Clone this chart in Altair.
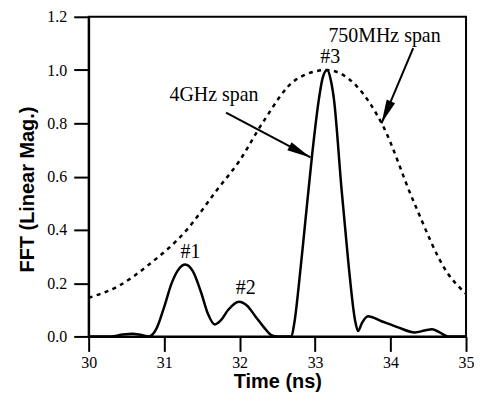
import altair as alt
import pandas as pd

# 4GHz span (solid) trace
solid_t = [30.0, 30.3, 30.45, 30.58, 30.7, 30.8, 30.9, 31.0, 31.1, 31.2, 31.28, 31.38,
           31.49, 31.58, 31.67, 31.75, 31.85, 31.99, 32.1, 32.21, 32.32, 32.42, 32.5,
           32.68, 32.73, 32.78, 32.87, 32.96, 33.05, 33.1, 33.16, 33.21, 33.25, 33.35,
           33.44, 33.53, 33.57, 33.62, 33.7, 33.88, 34.1, 34.32, 34.45, 34.55, 34.65,
           34.76, 35.0]
solid_v = [0.0, 0.0, 0.007, 0.01, 0.005, 0.0, 0.03, 0.11, 0.2, 0.255, 0.27, 0.245,
           0.165, 0.085, 0.045, 0.06, 0.1, 0.13, 0.115, 0.075, 0.035, 0.005, 0.0,
           0.0, 0.06, 0.18, 0.43, 0.68, 0.89, 0.97, 1.0, 0.96, 0.89, 0.555,
           0.28, 0.06, 0.02, 0.05, 0.076, 0.057, 0.034, 0.015, 0.022, 0.027, 0.015,
           0.0, 0.0]

# 750MHz span (dotted) trace
dot_t = [30.0, 30.4, 30.8, 31.3, 31.7, 32.0, 32.3, 32.75, 33.15, 33.55, 33.9, 34.3, 34.75, 35.0]
dot_v = [0.145, 0.19, 0.27, 0.40, 0.55, 0.66, 0.80, 0.965, 1.0, 0.94, 0.79, 0.51, 0.24, 0.16]

# text annotations (data coordinates)
label_text = ["#1", "#2", "#3", "4GHz span", "750MHz span"]
label_x = [31.35, 32.08, 33.2, 31.66, 33.92]
label_y = [0.318, 0.183, 1.05, 0.905, 1.127]

# arrows: start and tip (data coordinates), heading angle in degrees
arrow_x = [31.82, 34.30]
arrow_y = [0.840, 1.082]
arrow_x2 = [32.94, 33.88]
arrow_y2 = [0.672, 0.80]
arrow_angle = [117.9, 203.1]

SERIF = "Liberation Serif, Times New Roman, Times, serif"

xs = alt.Scale(domain=[30, 35], nice=False, zero=False)
ys = alt.Scale(domain=[0, 1.2], nice=False)

solid_df = pd.DataFrame({"t": solid_t, "v": solid_v})
dot_df = pd.DataFrame({"t": dot_t, "v": dot_v})
lab_df = pd.DataFrame({"x": label_x, "y": label_y, "txt": label_text})
arr_df = pd.DataFrame({"x": arrow_x, "y": arrow_y, "x2": arrow_x2, "y2": arrow_y2,
                       "ang": arrow_angle})

x_axis = alt.Axis(values=[30, 31, 32, 33, 34, 35], format="d", title="Time (ns)",
                  labelPadding=3, titlePadding=1)
y_axis = alt.Axis(values=[0, 0.2, 0.4, 0.6, 0.8, 1.0, 1.2], format=".1f",
                  title="FFT (Linear Mag.)", labelPadding=7, titlePadding=9, titleY=173)

dotted = alt.Chart(dot_df).mark_line(color="black", strokeWidth=2.5, strokeDash=[4, 4.5],
                                     interpolate="monotone").encode(
    x=alt.X("t:Q", scale=xs, axis=x_axis),
    y=alt.Y("v:Q", scale=ys, axis=y_axis),
)

solid = alt.Chart(solid_df).mark_line(color="black", strokeWidth=2.5,
                                      interpolate="monotone").encode(
    x=alt.X("t:Q", scale=xs),
    y=alt.Y("v:Q", scale=ys),
)

rules = alt.Chart(arr_df).mark_rule(color="black", strokeWidth=2).encode(
    x=alt.X("x:Q", scale=xs), y=alt.Y("y:Q", scale=ys),
    x2="x2:Q", y2="y2:Q",
)

heads = alt.Chart(arr_df).mark_point(
    shape="M0,0L-0.38,2L0.38,2Z", filled=True, color="black", opacity=1, size=576
).encode(
    x=alt.X("x2:Q", scale=xs), y=alt.Y("y2:Q", scale=ys),
    angle=alt.Angle("ang:Q", scale=None),
)

labels = alt.Chart(lab_df).mark_text(font=SERIF, fontSize=20, color="black",
                                     align="center", baseline="middle").encode(
    x=alt.X("x:Q", scale=xs), y=alt.Y("y:Q", scale=ys), text="txt:N",
)

chart = alt.layer(dotted, solid, rules, heads, labels).properties(
    width=379, height=321,
    autosize="none",
    padding={"left": 81, "top": 8, "right": 8, "bottom": 56},
).configure_view(
    stroke="black", strokeWidth=2,
).configure_axis(
    domainColor="black", domainWidth=2, tickColor="black", tickWidth=2, tickSize=15,
    grid=False, labelFont=SERIF, labelFontSize=16, labelColor="black",
    titleFont="Liberation Sans, Arial, sans-serif", titleFontSize=20, titleFontWeight="bold",
    titleColor="black", labelFlush=False,
)

chart.save("out.html", embed_options={"renderer": "svg", "actions": False})
